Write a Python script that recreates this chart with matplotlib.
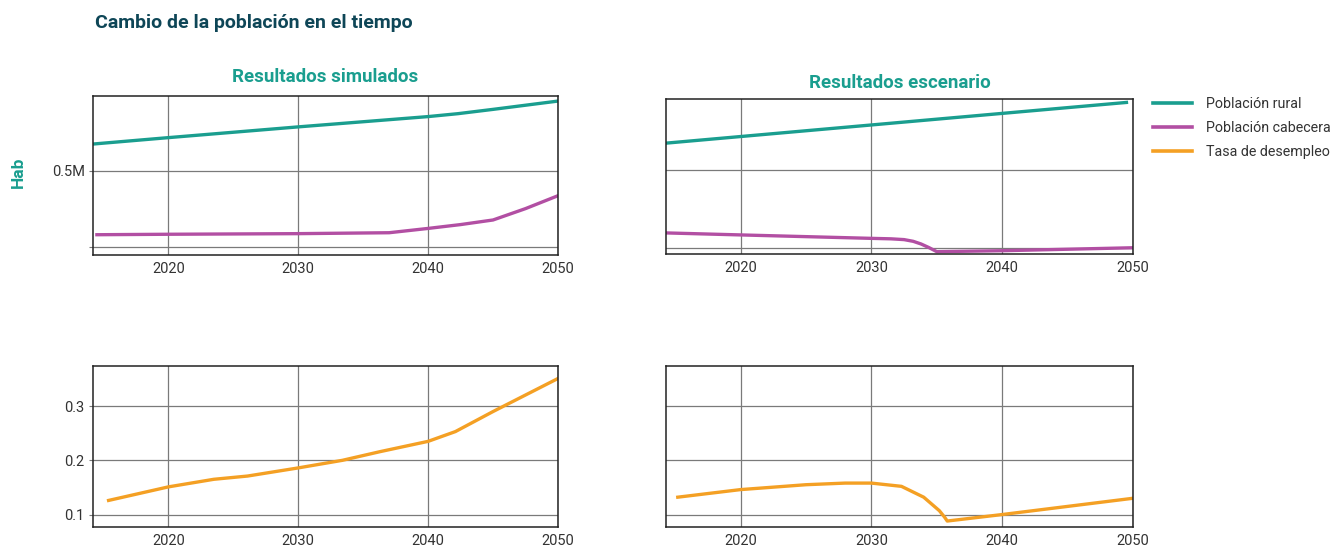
import matplotlib.pyplot as plt
from matplotlib.lines import Line2D

plt.rcParams['font.family'] = ['Roboto', 'DejaVu Sans']

TEAL = '#1a9e8f'
MAGENTA = '#b24fa3'
ORANGE = '#f4a024'
TITLE = '#0e4657'

# Resultados simulados (hab)
sim_rural_years = [2014.3, 2020, 2030, 2040, 2042.3, 2045, 2050]
sim_rural = [673000, 714000, 784000, 851000, 870000, 898000, 952000]
sim_cab_years = [2014.5, 2020, 2030, 2037, 2040, 2042.5, 2045, 2047.5, 2050]
sim_cab = [82000, 85000, 89000, 95000, 123000, 148000, 178000, 252000, 336000]

# Resultados escenario (hab)
esc_rural_years = [2014.2, 2020, 2030, 2040, 2049.5]
esc_rural = [672000, 715000, 789000, 863000, 933000]
esc_cab_years = [2014.2, 2020, 2030, 2031.5, 2032.5, 2033.2, 2033.8, 2034.4, 2035, 2040, 2050]
esc_cab = [99000, 86000, 64000, 61000, 56000, 45000, 28000, 5000, -21000, -15000, 4000]

# Tasa de desempleo
sim_tasa_years = [2015.4, 2020, 2023.5, 2026.1, 2030, 2033.4, 2036.3, 2040, 2042.1, 2045, 2050]
sim_tasa = [0.126, 0.151, 0.165, 0.171, 0.186, 0.200, 0.216, 0.235, 0.253, 0.290, 0.351]
esc_tasa_years = [2015.2, 2020, 2025, 2028, 2030, 2032.3, 2034, 2035.2, 2035.6, 2035.8, 2040, 2050]
esc_tasa = [0.132, 0.146, 0.155, 0.158, 0.158, 0.152, 0.132, 0.107, 0.095, 0.088, 0.100, 0.130]

x_ticks = [2020, 2030, 2040, 2050]
tasa_ticks = [0.1, 0.2, 0.3]

fig = plt.figure(figsize=(13.37, 5.49), dpi=100)
W, H = 1337, 549


def add_ax(left, top, right, bottom):
    return fig.add_axes([left / W, 1 - bottom / H, (right - left) / W, (bottom - top) / H])


ax1 = add_ax(93, 96, 558, 255)
ax2 = add_ax(666, 99, 1133, 254)
ax3 = add_ax(93, 366, 558, 527)
ax4 = add_ax(666, 366, 1133, 527)

lw = 2.4
ax1.plot(sim_rural_years, sim_rural, color=TEAL, lw=lw)
ax1.plot(sim_cab_years, sim_cab, color=MAGENTA, lw=lw)
ax2.plot(esc_rural_years, esc_rural, color=TEAL, lw=lw)
ax2.plot(esc_cab_years, esc_cab, color=MAGENTA, lw=lw)
ax3.plot(sim_tasa_years, sim_tasa, color=ORANGE, lw=lw)
ax4.plot(esc_tasa_years, esc_tasa, color=ORANGE, lw=lw)

ax1.set_xlim(2014.2, 2050)
ax2.set_xlim(2014.3, 2050)
ax3.set_xlim(2014.2, 2050)
ax4.set_xlim(2014.3, 2050)
ax1.set_ylim(-50000, 985000)
ax2.set_ylim(-36000, 955000)
for ax in (ax3, ax4):
    ax.set_ylim(0.077, 0.374)

for ax in (ax1, ax2):
    ax.set_yticks([0, 500000])
ax1.set_yticklabels(['', '0.5M'])
ax2.set_yticklabels(['', ''])
for ax in (ax3, ax4):
    ax.set_yticks(tasa_ticks)
ax3.set_yticklabels(['0.1', '0.2', '0.3'])
ax4.set_yticklabels(['', '', ''])

for ax in (ax1, ax2, ax3, ax4):
    ax.set_xticks(x_ticks)
    ax.set_xticklabels([str(t) for t in x_ticks])
    ax.grid(True, color='#7a7a7a', lw=0.9)
    ax.set_axisbelow(True)
    ax.tick_params(axis='x', length=0, labelsize=10.5, labelcolor='#333333', pad=5)
    ax.tick_params(axis='y', length=3, color='#7a7a7a', labelsize=10.5, labelcolor='#333333', pad=3)
    for s in ax.spines.values():
        s.set_color('#222222')
        s.set_linewidth(1.1)

for ax in (ax2, ax4):
    ax.tick_params(axis='y', length=0)

ax1.set_title('Resultados simulados', color=TEAL, fontsize=13.5, fontweight='bold', pad=10)
ax2.set_title('Resultados escenario', color=TEAL, fontsize=13.5, fontweight='bold', pad=8)

fig.text(95 / W, 1 - 23 / H, 'Cambio de la población en el tiempo', color=TITLE,
         fontsize=14, fontweight='bold', ha='left', va='center')
fig.text(18 / W, 1 - 172 / H, 'Hab', color=TEAL, fontsize=12.5, fontweight='bold',
         rotation=90, ha='center', va='center')

handles = [Line2D([], [], color=TEAL, lw=2.6),
           Line2D([], [], color=MAGENTA, lw=2.6),
           Line2D([], [], color=ORANGE, lw=2.6)]
labels = ['Población rural', 'Población cabecera', 'Tasa de desempleo']
fig.legend(handles, labels, loc='upper left', bbox_to_anchor=(1140 / W, 1 - 84 / H),
           frameon=False, fontsize=10.3, handlelength=2.7, handletextpad=1.0,
           labelspacing=0.7, labelcolor='#333333')

fig.savefig('out.png', dpi=100)
